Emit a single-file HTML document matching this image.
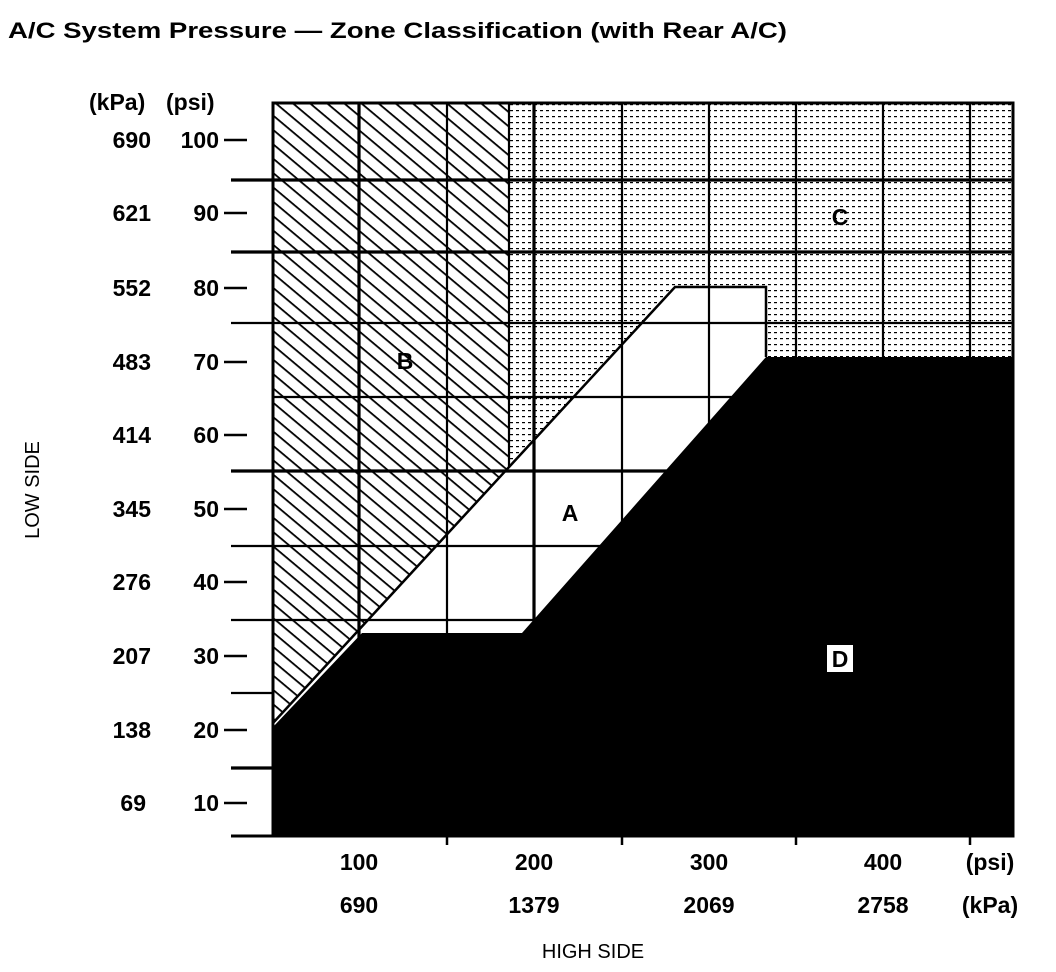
<!DOCTYPE html>
<html><head><meta charset="utf-8"><style>
html,body{margin:0;padding:0;background:#fff;}
svg{display:block;font-family:"Liberation Sans",Arial,sans-serif;}
</style></head><body>
<svg width="1056" height="972" viewBox="0 0 1056 972" xmlns="http://www.w3.org/2000/svg">
<defs>
<pattern id="hatch" width="20" height="11" patternUnits="userSpaceOnUse" patternTransform="rotate(40)">
<rect x="0" y="0" width="20" height="1.8" fill="#000"/>
</pattern>
<pattern id="dots" width="6" height="6" patternUnits="userSpaceOnUse">
<rect x="0" y="2" width="3" height="1.2" fill="#000"/>
</pattern>
</defs>
<text x="8" y="38" font-size="22" font-weight="bold" textLength="779" lengthAdjust="spacingAndGlyphs">A/C System Pressure — Zone Classification (with Rear A/C)</text>
<polygon points="273,103 509,103 509,467 273,723" fill="url(#hatch)"/>
<polygon points="509,103 1013,103 1013,357 766,357 766,287 675,287 509,467" fill="url(#dots)"/>
<g stroke="#000">
<g stroke-width="3.2">
<line x1="231" y1="180" x2="1013" y2="180"/>
<line x1="231" y1="252" x2="1013" y2="252"/>
<line x1="231" y1="471" x2="1013" y2="471"/>
<line x1="231" y1="768" x2="273" y2="768"/>
<line x1="359" y1="103" x2="359" y2="836"/>
<line x1="534" y1="103" x2="534" y2="836"/>
</g>
<g stroke-width="2.2">
<line x1="231" y1="323" x2="1013" y2="323"/>
<line x1="273" y1="397" x2="1013" y2="397"/>
<line x1="231" y1="546" x2="1013" y2="546"/>
<line x1="231" y1="620" x2="1013" y2="620"/>
<line x1="231" y1="693" x2="273" y2="693"/>
<line x1="447" y1="103" x2="447" y2="836"/>
<line x1="509" y1="103" x2="509" y2="467"/>
<line x1="622" y1="103" x2="622" y2="836"/>
<line x1="709" y1="103" x2="709" y2="836"/>
<line x1="796" y1="103" x2="796" y2="836"/>
<line x1="883" y1="103" x2="883" y2="836"/>
<line x1="970" y1="103" x2="970" y2="836"/>
</g>
<polyline points="273,723 675,287 766,287 766,357" fill="none" stroke-width="2.5"/>
<rect x="273" y="103" width="740" height="733" fill="none" stroke-width="3"/>
<line x1="231" y1="836" x2="1013" y2="836" stroke-width="3"/>
<g stroke-width="2.5">
<line x1="224" y1="140" x2="247" y2="140"/>
<line x1="224" y1="213" x2="247" y2="213"/>
<line x1="224" y1="288" x2="247" y2="288"/>
<line x1="224" y1="362" x2="247" y2="362"/>
<line x1="224" y1="435" x2="247" y2="435"/>
<line x1="224" y1="509" x2="247" y2="509"/>
<line x1="224" y1="582" x2="247" y2="582"/>
<line x1="224" y1="656" x2="247" y2="656"/>
<line x1="224" y1="730" x2="247" y2="730"/>
<line x1="224" y1="803" x2="247" y2="803"/>
<line x1="447" y1="836" x2="447" y2="845"/>
<line x1="622" y1="836" x2="622" y2="845"/>
<line x1="796" y1="836" x2="796" y2="845"/>
<line x1="970" y1="836" x2="970" y2="845"/>
</g>
</g>
<polygon points="273,836 273,727 362,633 522,633 766,357 1013,357 1013,836" fill="#000"/>
<g font-size="23" font-weight="bold" text-anchor="middle">
<text x="405" y="369">B</text>
<text x="840" y="225">C</text>
<text x="570" y="521">A</text>
<rect x="827" y="645" width="26" height="27" fill="#fff"/>
<text x="840" y="667">D</text>
</g>
<g font-size="23" font-weight="bold">
<text x="89" y="110">(kPa)</text><text x="166" y="110">(psi)</text>
</g>
<g font-size="23" font-weight="bold" text-anchor="end">
<text x="151" y="148">690</text><text x="219" y="148">100</text>
<text x="151" y="221">621</text><text x="219" y="221">90</text>
<text x="151" y="296">552</text><text x="219" y="296">80</text>
<text x="151" y="370">483</text><text x="219" y="370">70</text>
<text x="151" y="443">414</text><text x="219" y="443">60</text>
<text x="151" y="517">345</text><text x="219" y="517">50</text>
<text x="151" y="590">276</text><text x="219" y="590">40</text>
<text x="151" y="664">207</text><text x="219" y="664">30</text>
<text x="151" y="738">138</text><text x="219" y="738">20</text>
<text x="146" y="811">69</text><text x="219" y="811">10</text>
</g>
<text transform="translate(39,490) rotate(-90)" font-size="20" text-anchor="middle">LOW SIDE</text>
<g font-size="23" font-weight="bold" text-anchor="middle">
<text x="359" y="870">100</text><text x="534" y="870">200</text><text x="709" y="870">300</text><text x="883" y="870">400</text><text x="990" y="870">(psi)</text>
<text x="359" y="913">690</text><text x="534" y="913">1379</text><text x="709" y="913">2069</text><text x="883" y="913">2758</text><text x="990" y="913">(kPa)</text>
</g>
<text x="593" y="958" font-size="20" text-anchor="middle">HIGH SIDE</text>
</svg>
</body></html>
